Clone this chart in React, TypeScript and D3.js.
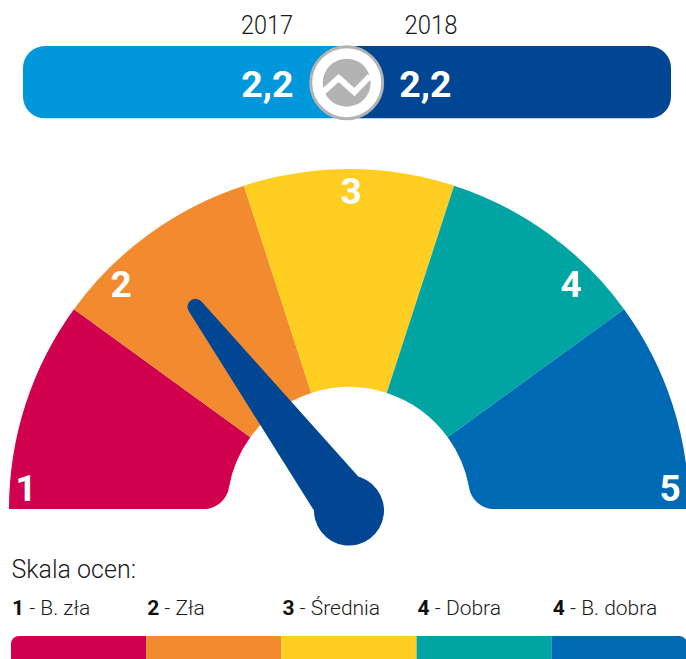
import React from "react";
import * as d3 from "d3";

const grades = [1, 2, 3, 4, 5];
const gradeColors = ["#D1004F", "#F28B2F", "#FFCE21", "#00A4A3", "#0069B4"];
const legendGrades = ["1", "2", "3", "4", "4"];
const legendNames = ["B. zła", "Zła", "Średnia", "Dobra", "B. dobra"];
const years = ["2017", "2018"];
const yearValues = [2.2, 2.2];
const yearColors = ["#0098DA", "#004692"];
const logoTrend = [0, 14, 0, 16];

const W = 686, H = 659;
const FONT = "Roboto, 'Liberation Sans', sans-serif";
const cx = 349, cy = 509, R = 340, r0 = 122;
const fmt = (v: number) => v.toFixed(1).replace(".", ",");

// slices span equal angles; the needle runs 1 (left end) to 5 (right end)
const sliceAngle = d3.scaleLinear().domain([0, grades.length]).range([-Math.PI / 2, Math.PI / 2]);
const needleAngle = d3.scaleLinear().domain([1, 5]).range([-91, 89]);
const legendX = d3.scaleBand<number>().domain(d3.range(grades.length)).range([11, 687]);
const barX = d3.scaleLinear().domain([0, 2]).range([23, 671]);

const arcGen = d3.arc();

function endSlice(side: -1 | 1) {
  // end slice whose inner foot is swept out in a soft fillet
  const p = d3.path();
  const sa = (a: number) => a - Math.PI / 2; // arc angle -> canvas angle
  const a0 = side < 0 ? sliceAngle(0) : sliceAngle(5);
  const a1 = side < 0 ? sliceAngle(1) : sliceAngle(4);
  const filletA = side * (Math.PI / 2 - Math.asin(22 / r0));
  p.moveTo(cx + R * Math.cos(sa(a0)), cy + R * Math.sin(sa(a0)));
  p.arc(cx, cy, R, sa(a0), sa(a1), side > 0);
  p.arc(cx, cy, r0, sa(a1), sa(filletA), side < 0);
  p.bezierCurveTo(cx + side * 122, cy - 8, cx + side * 134, cy, cx + side * 145, cy);
  p.closePath();
  return p.toString();
}

function Needle({ value }: { value: number }) {
  const len = 255, tipR = 8, baseW = 28, baseD = 21, hub = 35;
  const d = d3.path();
  d.moveTo(-baseW, -baseD);
  d.lineTo(-tipR, -len);
  d.arc(0, -len, tipR, Math.PI, 0);
  d.lineTo(baseW, -baseD);
  d.closePath();
  return (
    <g transform={`translate(349,510.5) rotate(${needleAngle(value)})`} fill="#004692">
      <path d={d.toString()} />
      <circle r={hub} />
    </g>
  );
}

const labelPos = [
  { x: 26, y: 501 }, { x: 121, y: 297 }, { x: 351, y: 204 }, { x: 571, y: 297 }, { x: 670, y: 501 },
];

export default function App() {
  const logo = d3.line<number>().x((_, i) => 323 + i * 15.7).y((v) => 92 - (v === 0 ? 0 : v));
  const split = barX(1);
  const barL = barX(0), barR = barX(2), barT = 46, barB = 118.5, rr = 22;
  return (
    <svg width={W} height={H} viewBox={`0 0 ${W} ${H}`} style={{ position: "absolute", left: 0, top: 0, background: "#fff" }} fontFamily={FONT}>
      <defs>
        <clipPath id="pill"><rect x={barL} y={barT} width={barR - barL} height={barB - barT} rx={rr} /></clipPath>
        <clipPath id="legendClip"><rect x={11} y={636} width={676} height={40} rx={8} /></clipPath>
      </defs>

      {years.map((y, i) => (
        <text key={y} x={i === 0 ? 267 : 431} y={33.5} textAnchor="middle" fontSize={25} fontWeight={300} fill="#1a1a1a" textLength={i === 0 ? 52 : 53} lengthAdjust="spacingAndGlyphs">{y}</text>
      ))}
      <g clipPath="url(#pill)">
        <rect x={barL} y={barT} width={split - barL} height={barB - barT} fill={yearColors[0]} />
        <rect x={split} y={barT} width={barR - split} height={barB - barT} fill={yearColors[1]} />
      </g>
      {yearValues.map((v, i) => (
        <text key={i} x={i === 0 ? 267.5 : 425.5} y={97} textAnchor="middle" fontSize={37.5} fontWeight={700} fill="#fff">{fmt(v)}</text>
      ))}
      <circle cx={346.7} cy={82.7} r={36} fill="#fff" stroke="#B3B3B3" strokeWidth={3} />
      <circle cx={346.7} cy={82.7} r={24} fill="#B3B3B3" />
      <path d={logo(logoTrend) ?? ""} fill="none" stroke="#fff" strokeWidth={6} />

      {grades.map((g, i) =>
        i === 0 || i === grades.length - 1 ? (
          <path key={g} d={endSlice(i === 0 ? -1 : 1)} fill={gradeColors[i]} />
        ) : (
          <path
            key={g}
            transform={`translate(${cx},${cy})`}
            fill={gradeColors[i]}
            d={arcGen({ innerRadius: r0, outerRadius: R, startAngle: sliceAngle(i), endAngle: sliceAngle(i + 1) }) ?? ""}
          />
        )
      )}
      {grades.map((g, i) => (
        <text key={g} x={labelPos[i].x} y={labelPos[i].y} textAnchor="middle" fontSize={37} fontWeight={700} fill="#fff">{g}</text>
      ))}
      <Needle value={yearValues[1]} />

      <text x={11.5} y={578} fontSize={25} fontWeight={300} fill="#1a1a1a">Skala ocen:</text>
      {legendNames.map((n, i) => (
        <text key={i} x={legendX(i)! + 1} y={615} fontSize={21} fontWeight={300} fill="#1a1a1a">
          <tspan fontWeight={700} fill="#111">{legendGrades[i]}</tspan> - {n}
        </text>
      ))}
      <g clipPath="url(#legendClip)">
        {grades.map((g, i) => (
          <rect key={g} x={legendX(i)} y={636} width={legendX.bandwidth()} height={40} fill={gradeColors[i]} />
        ))}
      </g>
    </svg>
  );
}
